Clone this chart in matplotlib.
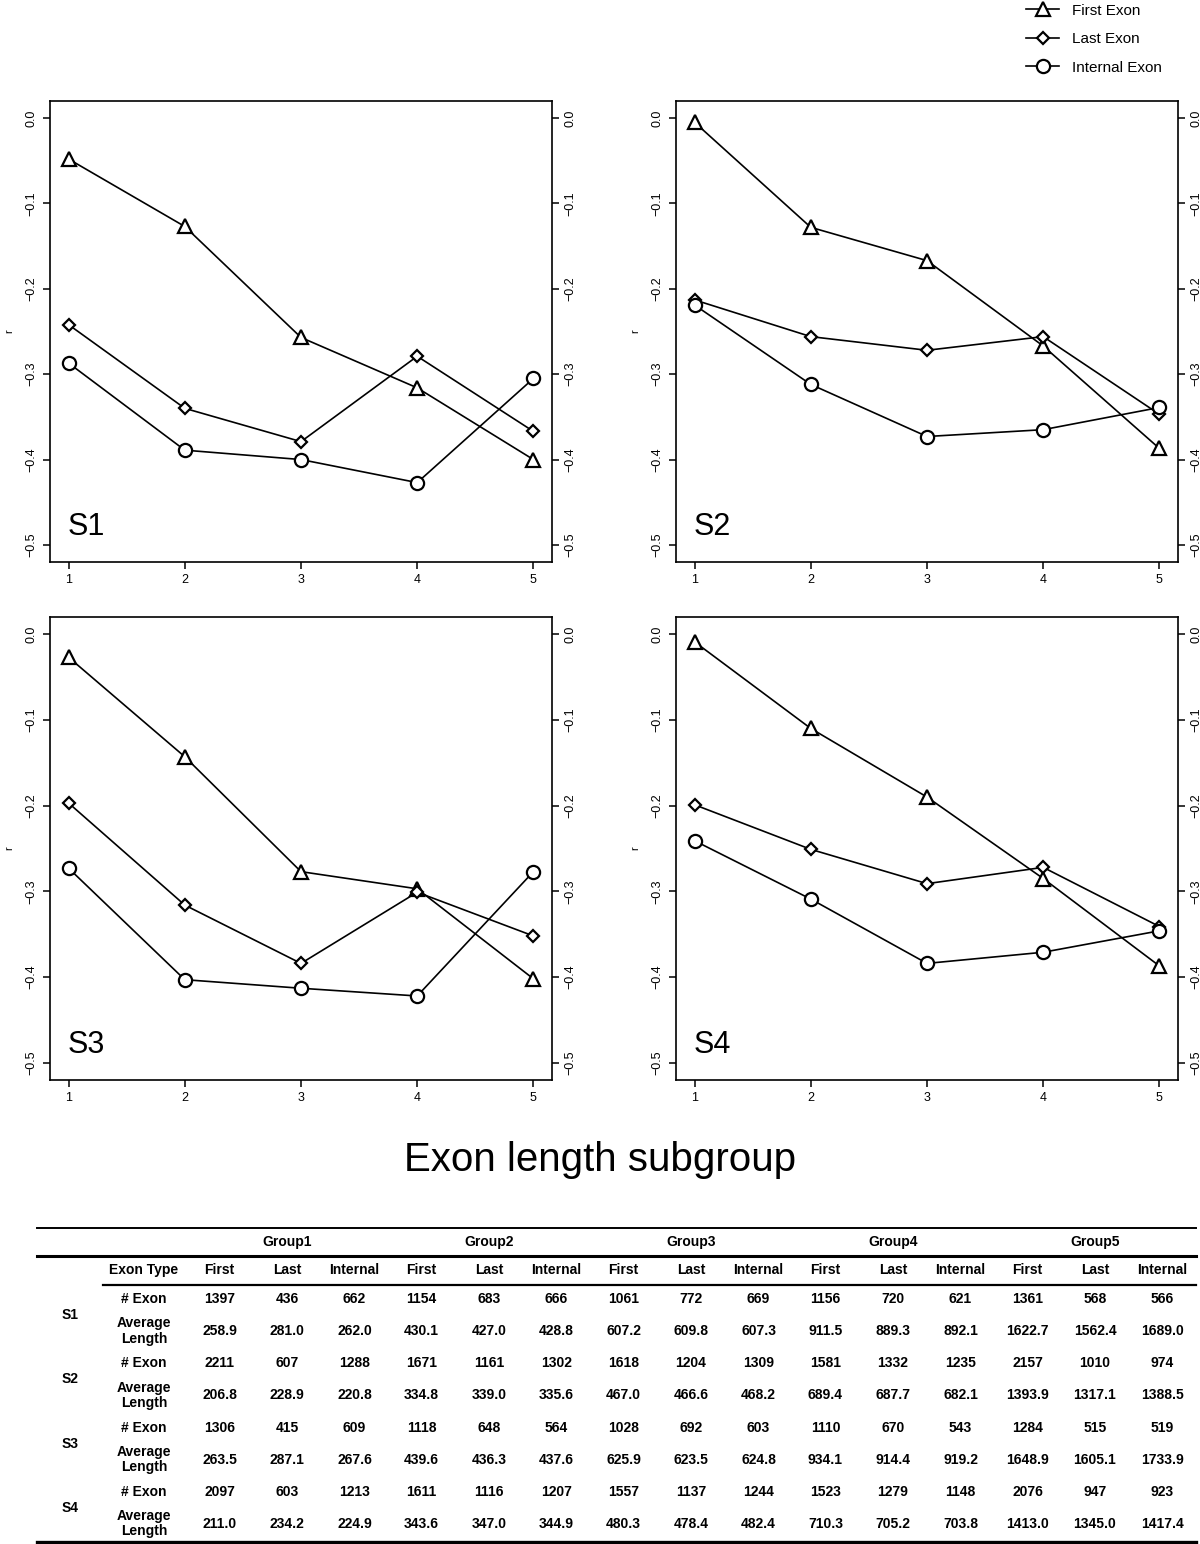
import matplotlib
matplotlib.use("Agg")
import matplotlib.pyplot as plt
from matplotlib.lines import Line2D

plt.rcParams["font.family"] = ["Liberation Sans", "DejaVu Sans"]

# ---- data ----
groups = [1, 2, 3, 4, 5]
panels = ["S1", "S2", "S3", "S4"]
series_names = ["First Exon", "Last Exon", "Internal Exon"]

first_exon = {
    "S1": [-0.048, -0.127, -0.257, -0.316, -0.400],
    "S2": [-0.005, -0.128, -0.167, -0.267, -0.387],
    "S3": [-0.027, -0.143, -0.277, -0.297, -0.402],
    "S4": [-0.009, -0.110, -0.190, -0.285, -0.387],
}
last_exon = {
    "S1": [-0.242, -0.340, -0.379, -0.279, -0.367],
    "S2": [-0.213, -0.256, -0.272, -0.256, -0.347],
    "S3": [-0.197, -0.316, -0.384, -0.301, -0.352],
    "S4": [-0.199, -0.251, -0.291, -0.272, -0.341],
}
internal_exon = {
    "S1": [-0.287, -0.389, -0.400, -0.427, -0.305],
    "S2": [-0.219, -0.312, -0.373, -0.365, -0.339],
    "S3": [-0.273, -0.403, -0.413, -0.422, -0.277],
    "S4": [-0.241, -0.309, -0.384, -0.371, -0.346],
}

# table data
group_labels = ["Group1", "Group2", "Group3", "Group4", "Group5"]
exon_types = ["First", "Last", "Internal"]
n_exon = {
    "S1": [1397, 436, 662, 1154, 683, 666, 1061, 772, 669, 1156, 720, 621, 1361, 568, 566],
    "S2": [2211, 607, 1288, 1671, 1161, 1302, 1618, 1204, 1309, 1581, 1332, 1235, 2157, 1010, 974],
    "S3": [1306, 415, 609, 1118, 648, 564, 1028, 692, 603, 1110, 670, 543, 1284, 515, 519],
    "S4": [2097, 603, 1213, 1611, 1116, 1207, 1557, 1137, 1244, 1523, 1279, 1148, 2076, 947, 923],
}
avg_len = {
    "S1": [258.9, 281.0, 262.0, 430.1, 427.0, 428.8, 607.2, 609.8, 607.3, 911.5, 889.3, 892.1, 1622.7, 1562.4, 1689.0],
    "S2": [206.8, 228.9, 220.8, 334.8, 339.0, 335.6, 467.0, 466.6, 468.2, 689.4, 687.7, 682.1, 1393.9, 1317.1, 1388.5],
    "S3": [263.5, 287.1, 267.6, 439.6, 436.3, 437.6, 625.9, 623.5, 624.8, 934.1, 914.4, 919.2, 1648.9, 1605.1, 1733.9],
    "S4": [211.0, 234.2, 224.9, 343.6, 347.0, 344.9, 480.3, 478.4, 482.4, 710.3, 705.2, 703.8, 1413.0, 1345.0, 1417.4],
}

W, H = 1200, 1544


def px_rect(left, top, right, bottom):
    return [left / W, 1 - bottom / H, (right - left) / W, (bottom - top) / H]


fig = plt.figure(figsize=(W / 100, H / 100), dpi=100)

boxes = {
    "S1": (50, 101, 552, 562),
    "S2": (676, 101, 1178, 562),
    "S3": (50, 617, 552, 1080),
    "S4": (676, 617, 1178, 1080),
}

styles = [
    (first_exon, "^", 10.5),
    (last_exon, "D", 6.5),
    (internal_exon, "o", 9.5),
]

for p in panels:
    ax = fig.add_axes(px_rect(*boxes[p]))
    for data, marker, ms in styles:
        ax.plot(groups, data[p], color="black", lw=1.2, marker=marker, ms=ms,
                mfc="white", mec="black", mew=1.6)
    ax.set_xlim(0.84, 5.16)
    ax.set_ylim(-0.52, 0.02)
    ax.set_xticks(groups)
    ax.set_yticks([0.0, -0.1, -0.2, -0.3, -0.4, -0.5])
    ax.set_yticklabels(["0.0", "\u22120.1", "\u22120.2", "\u22120.3", "\u22120.4", "\u22120.5"])
    ax.tick_params(axis="both", direction="out", length=5, width=1.1, labelsize=9)
    ax.tick_params(axis="y", right=True, labelright=True, pad=4)
    for lab in ax.get_yticklabels():
        lab.set_rotation(90)
        lab.set_va("center")
    for side in ["left", "right", "top", "bottom"]:
        ax.spines[side].set_linewidth(1.2)
    ax.set_ylabel("r", fontsize=8, labelpad=8)
    ax.text(0.035, 0.075, p, transform=ax.transAxes, fontsize=22, ha="left", va="center")

# legend
handles = [
    Line2D([0], [0], color="black", lw=1.2, marker=m, ms=ms, mfc="white", mec="black", mew=1.6)
    for _, m, ms in styles
]
fig.legend(handles, series_names, loc="upper left", bbox_to_anchor=(1012 / W, 1 + 10 / H),
           frameon=False, fontsize=11, handlelength=2.2, labelspacing=0.95, handletextpad=0.8)

fig.text(600 / W, 1 - 1160 / H, "Exon length subgroup", fontsize=29, ha="center", va="center")

# ---- table ----
tax = fig.add_axes([0, 0, 1, 1])
tax.set_xlim(0, W)
tax.set_ylim(H, 0)
tax.axis("off")

fs = 10
left_x, right_x = 37, 1196
tax.plot([left_x, right_x], [1228, 1228], color="black", lw=1.4)
tax.plot([left_x, right_x], [1256, 1256], color="black", lw=2.2)
tax.plot([103, right_x], [1285, 1285], color="black", lw=1.6)
tax.plot([left_x, right_x], [1542, 1542], color="black", lw=2.4)

group_x = [287, 489, 691, 893, 1095]
col_w = 67.5
for gi, g in enumerate(group_labels):
    tax.text(group_x[gi], 1242, g, fontsize=fs, weight="bold", ha="center", va="center")

col_x = []
for gx in group_x:
    col_x += [gx - col_w, gx, gx + col_w]

tax.text(144, 1270, "Exon Type", fontsize=fs, weight="bold", ha="center", va="center")
for ci, cx in enumerate(col_x):
    tax.text(cx, 1270, exon_types[ci % 3], fontsize=fs, weight="bold", ha="center", va="center")

row_y0 = 1299
row_step = 64.3
for si, s in enumerate(panels):
    y_n = row_y0 + si * row_step
    y_a = y_n + 32
    tax.text(70, (y_n + y_a) / 2, s, fontsize=fs, weight="bold", ha="center", va="center")
    tax.text(144, y_n, "# Exon", fontsize=fs, weight="bold", ha="center", va="center")
    tax.text(144, y_a, "Average\nLength", fontsize=fs, weight="bold", ha="center", va="center",
             linespacing=1.1)
    for ci, cx in enumerate(col_x):
        tax.text(cx, y_n, str(n_exon[s][ci]), fontsize=fs, weight="bold", ha="center", va="center")
        tax.text(cx, y_a, f"{avg_len[s][ci]:.1f}", fontsize=fs, weight="bold", ha="center", va="center")

fig.savefig("out.png", dpi=100)
